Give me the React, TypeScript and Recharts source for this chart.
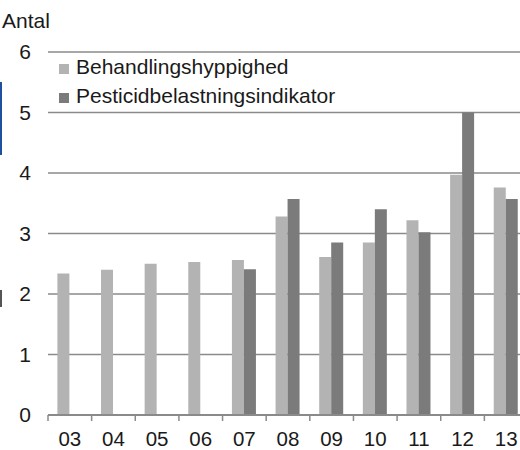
import React from 'react';
import { BarChart, Bar, XAxis, YAxis, CartesianGrid, Legend } from 'recharts';

const years = ['03', '04', '05', '06', '07', '08', '09', '10', '11', '12', '13'];
const behandling = [2.34, 2.4, 2.5, 2.53, 2.56, 3.28, 2.61, 2.85, 3.22, 3.97, 3.76];
const pesticid: (number | null)[] = [null, null, null, null, 2.41, 3.57, 2.85, 3.4, 3.02, 5.0, 3.57];
const yTicks = [0, 1, 2, 3, 4, 5, 6];
const nameA = 'Behandlingshyppighed';
const nameB = 'Pesticidbelastningsindikator';
const unitLabel = 'Antal';

const data = years.map((y, i) => ({ year: y, a: behandling[i], b: pesticid[i] }));

const FONT = '"Liberation Sans", Arial, sans-serif';
const TEXT = '#1a1a1a';
const GRID = '#8a8a8a';
const CHART_W = 528;
const LEFT = 48;
const HALF_BAND = (CHART_W - LEFT) / years.length / 2;

const XTick = (props: any) => {
  const { x, y, payload } = props;
  const off = payload && typeof payload.offset === 'number' && payload.offset > 0 ? payload.offset : HALF_BAND;
  return (
    <g>
      <line x1={x - off} x2={x - off} y1={y - 16} y2={y - 10} stroke={GRID} strokeWidth={1.5} />
      <text x={x} y={y} dy="0.71em" textAnchor="middle" fill={TEXT} fontSize={20.5} fontFamily={FONT}>
        {payload.value}
      </text>
    </g>
  );
};

const renderLegend = (props: any) => {
  const items = props.payload || [];
  return (
    <div style={{ fontFamily: FONT, fontSize: 21, color: TEXT }}>
      {items.map((e: any) => (
        <div key={e.value} style={{ display: 'flex', alignItems: 'flex-start', height: 29, lineHeight: '29px', whiteSpace: 'nowrap' }}>
          <span style={{ display: 'inline-block', width: 10, height: 10, marginTop: 12.5, marginRight: 7, background: e.color }} />
          <span>{e.value}</span>
        </div>
      ))}
    </div>
  );
};

export default function App() {
  return (
    <div style={{ position: 'fixed', left: 0, top: 0, width: 520, height: 450, overflow: 'hidden', background: '#fff' }}>
      <div style={{ position: 'absolute', left: 2, top: 9.5, fontFamily: FONT, fontSize: 21, lineHeight: '21px', color: TEXT }}>
        {unitLabel}
      </div>
      <div style={{ position: 'absolute', left: 0, top: 82, width: 2, height: 73, background: '#1f50a0' }} />
      <div style={{ position: 'absolute', left: 0, top: 290, width: 2, height: 17, background: '#555' }} />
      <div style={{ position: 'absolute', left: 0, top: 0 }}>
        <BarChart
          width={CHART_W}
          height={450}
          data={data}
          margin={{ top: 52, right: 0, left: 0, bottom: 0 }}
          barCategoryGap="21.5%"
          barGap={0}
        >
          <CartesianGrid vertical={false} stroke={GRID} strokeWidth={1.3} />
          <YAxis
            width={LEFT}
            domain={[0, 6]}
            ticks={yTicks}
            interval={0}
            axisLine={false}
            tickLine={false}
            tickSize={0}
            tickMargin={17}
            tick={{ fill: TEXT, fontSize: 21, fontFamily: FONT }}
          />
          <XAxis
            dataKey="year"
            height={35}
            interval={0}
            axisLine={{ stroke: GRID, strokeWidth: 2 }}
            tickLine={false}
            tickSize={6}
            tickMargin={10}
            tick={<XTick />}
          />
          <Legend
            layout="vertical"
            align="center"
            verticalAlign="middle"
            wrapperStyle={{ top: 51.5, left: 59, width: 'auto', height: 'auto' }}
            content={renderLegend}
          />
          <Bar dataKey="a" name={nameA} fill="#b3b3b3" isAnimationActive={false} />
          <Bar dataKey="b" name={nameB} fill="#7b7b7b" isAnimationActive={false} />
        </BarChart>
      </div>
    </div>
  );
}
